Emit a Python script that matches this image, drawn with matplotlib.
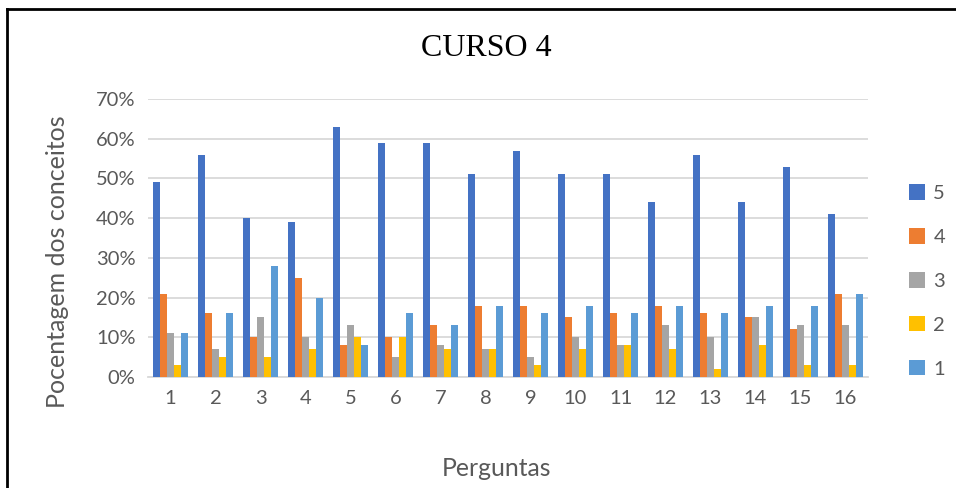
import matplotlib
matplotlib.use("Agg")
import matplotlib.pyplot as plt
import numpy as np
from matplotlib.lines import Line2D

# Data (percent)
questions = [str(i) for i in range(1, 17)]
series_labels = ["5", "4", "3", "2", "1"]
s5 = [49, 56, 40, 39, 63, 59, 59, 51, 57, 51, 51, 44, 56, 44, 53, 41]
s4 = [21, 16, 10, 25, 8, 10, 13, 18, 18, 15, 16, 18, 16, 15, 12, 21]
s3 = [11, 7, 15, 10, 13, 5, 8, 7, 5, 10, 8, 13, 10, 15, 13, 13]
s2 = [3, 5, 5, 7, 10, 10, 7, 7, 3, 7, 8, 7, 2, 8, 3, 3]
s1 = [11, 16, 28, 20, 8, 16, 13, 18, 16, 18, 16, 18, 16, 18, 18, 21]
colors = ["#4472C4", "#ED7D31", "#A5A5A5", "#FFC000", "#5B9BD5"]

TICK_COLOR = "#595959"
FONT = "Lato"

fig = plt.figure(figsize=(9.56, 4.88), dpi=100)
ax = fig.add_axes([148 / 956, 1 - 377 / 488, 720 / 956, 278 / 488])

x = np.arange(len(questions))
width = 0.155
for i, (vals, lab, col) in enumerate(zip([s5, s4, s3, s2, s1], series_labels, colors)):
    ax.bar(x + (i - 2) * width, vals, width=width, color=col, label=lab, zorder=3)

ax.set_xlim(-0.5, len(questions) - 0.5)
ax.set_ylim(0, 70)
ax.set_yticks(range(0, 71, 10))
ax.set_yticklabels([f"{v}%" for v in range(0, 71, 10)])
ax.set_xticks(x)
ax.set_xticklabels(questions)
ax.grid(axis="y", color="#d9d9d9", linewidth=1.3, zorder=0)
for side in ["top", "right", "left"]:
    ax.spines[side].set_visible(False)
ax.spines["bottom"].set_color("#d9d9d9")
ax.spines["bottom"].set_linewidth(1.3)
ax.tick_params(length=0, colors=TICK_COLOR, labelsize=14.5, pad=9)
for lbl in ax.get_xticklabels() + ax.get_yticklabels():
    lbl.set_fontfamily(FONT)

fig.text(58 / 956, 1 - 262 / 488, "Pocentagem dos conceitos", ha="center", va="center",
         rotation=90, fontsize=18, color=TICK_COLOR, fontfamily=FONT)
fig.text(497 / 956, 1 - 468 / 488, "Perguntas", ha="center", va="center",
         fontsize=17.8, color=TICK_COLOR, fontfamily=FONT)

fig.text(486 / 956, 1 - 48 / 488, "CURSO 4", ha="center", va="center",
         fontsize=23, fontfamily="Liberation Serif", color="black")

leg = ax.legend(loc="center left", bbox_to_anchor=(891 / 956, 1 - 281 / 488),
                bbox_transform=fig.transFigure, frameon=False,
                handlelength=0.8, handleheight=0.8, handletextpad=0.4,
                labelspacing=1.3, prop={"family": FONT, "size": 14.5})
for t in leg.get_texts():
    t.set_color(TICK_COLOR)

# outer frame (top and left edges visible)
fw = 2.0
fig.add_artist(Line2D([7 / 956, 1], [1 - 9 / 488, 1 - 9 / 488],
                      transform=fig.transFigure, color="black", linewidth=fw))
fig.add_artist(Line2D([7 / 956, 7 / 956], [0, 1 - 9 / 488],
                      transform=fig.transFigure, color="black", linewidth=fw))

fig.savefig("out.png", dpi=100)
